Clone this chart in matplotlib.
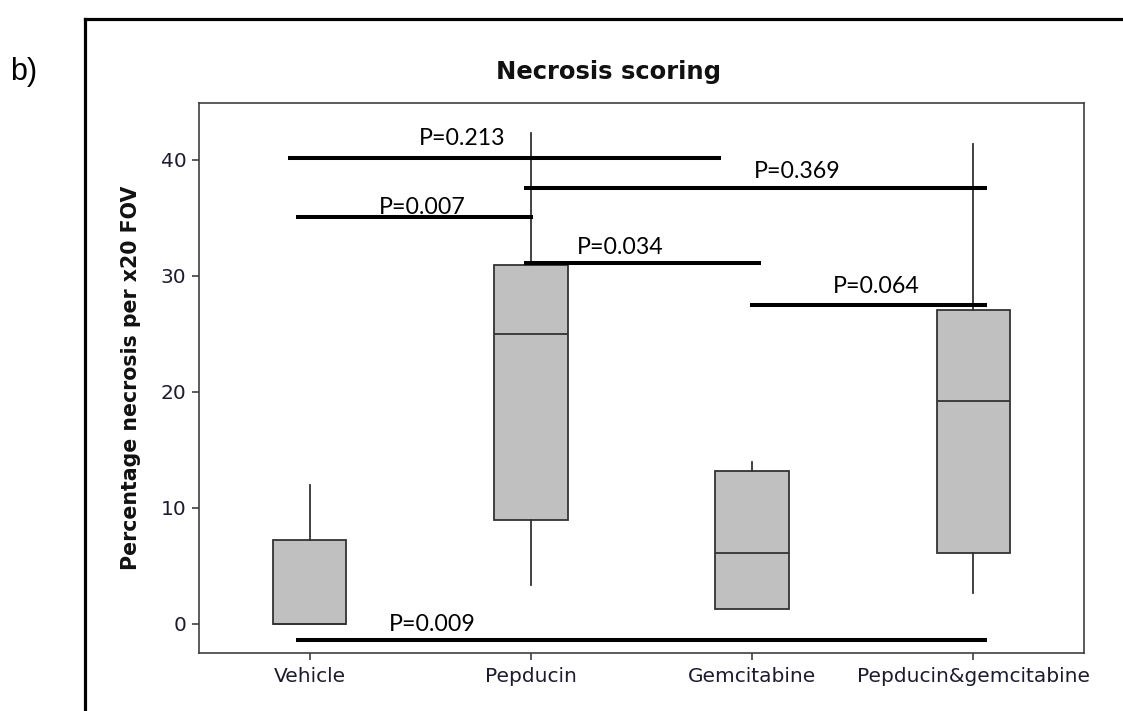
import matplotlib
matplotlib.use("Agg")
import matplotlib.pyplot as plt
from matplotlib.lines import Line2D

# Groups and box summary statistics (percentage necrosis per x20 FOV)
groups = ["Vehicle", "Pepducin", "Gemcitabine", "Pepducin&gemcitabine"]
q1 = [0.0, 9.0, 1.3, 6.1]
medians = [0.0, 25.0, 6.1, 19.2]
q3 = [7.2, 30.9, 13.2, 27.1]
whisker_low = [0.0, 3.4, 1.3, 2.7]
whisker_high = [12.0, 42.3, 14.0, 41.4]

y_ticks = [0, 10, 20, 30, 40]

# Pairwise comparison bars: start, end, height
bar_x0 = [0.90, 0.94, 1.97, 1.97, 2.99, 0.94]
bar_x1 = [2.86, 2.01, 4.06, 3.04, 4.06, 4.06]
bar_y = [40.2, 35.05, 37.6, 31.1, 27.5, -1.4]
# P-value labels and where they sit
p_text = ["P=0.213", "P=0.007", "P=0.369", "P=0.034", "P=0.064", "P=0.009"]
p_x = [1.495, 1.314, 3.009, 2.208, 3.363, 1.359]
p_y = [41.25, 35.3, 38.4, 31.9, 28.5, -0.6]

W, H = 1123, 711
fig = plt.figure(figsize=(W / 100, H / 100), dpi=100)
ax = fig.add_axes([199 / W, 1 - 653 / H, (1084 - 199) / W, (653 - 103) / H])

edge = "#333333"
stats = []
for i, g in enumerate(groups):
    stats.append(dict(label=g, q1=q1[i], med=medians[i], q3=q3[i],
                      whislo=whisker_low[i], whishi=whisker_high[i], fliers=[]))

ax.bxp(stats, positions=range(1, len(groups) + 1), widths=0.333,
       showcaps=False, showfliers=False, patch_artist=True,
       boxprops=dict(facecolor="#c0c0c0", edgecolor=edge, linewidth=1.3),
       medianprops=dict(color=edge, linewidth=1.3),
       whiskerprops=dict(color=edge, linewidth=1.3))

for x0, x1, y in zip(bar_x0, bar_x1, bar_y):
    ax.plot([x0, x1], [y, y], color="black", linewidth=2.9,
            solid_capstyle="butt", zorder=4)

for t, x, y in zip(p_text, p_x, p_y):
    ax.text(x, y, t, ha="left", va="baseline", fontsize=16.7,
            family="Lato", color="black", zorder=5)

ax.set_xlim(0.5, 4.5)
ax.set_ylim(-2.5, 44.9)
ax.set_yticks(y_ticks)
ax.set_xticks(range(1, len(groups) + 1))
ax.set_xticklabels(groups)

for s in ax.spines.values():
    s.set_color("#404040")
    s.set_linewidth(1.2)
ax.tick_params(axis="both", direction="out", length=5, width=1.2,
               color="#404040", labelsize=14.5, labelcolor="#1c1c2e")
ax.tick_params(axis="x", pad=5)
ax.tick_params(axis="y", pad=4)

fig.text(608 / W, 1 - 79 / H, "Necrosis scoring", ha="center", va="baseline",
         fontsize=17.5, fontweight="bold", family="DejaVu Sans", color="#111111")
fig.text(131 / W, 1 - 378 / H, "Percentage necrosis per x20 FOV",
         rotation=90, ha="center", va="center", fontsize=14.8,
         fontweight="bold", family="DejaVu Sans", color="#111111")
fig.text(10 / W, 1 - 80 / H, "b)", ha="left", va="baseline",
         fontsize=22, family="Liberation Sans", color="black")

# Panel frame (top and left edges)
fig.add_artist(Line2D([84.5 / W, 1.0], [1 - 18.5 / H, 1 - 18.5 / H],
                      color="black", linewidth=2.3, solid_capstyle="projecting"))
fig.add_artist(Line2D([84.5 / W, 84.5 / W], [0.0, 1 - 18.5 / H],
                      color="black", linewidth=2.3, solid_capstyle="projecting"))

fig.savefig("out.png", dpi=100)
